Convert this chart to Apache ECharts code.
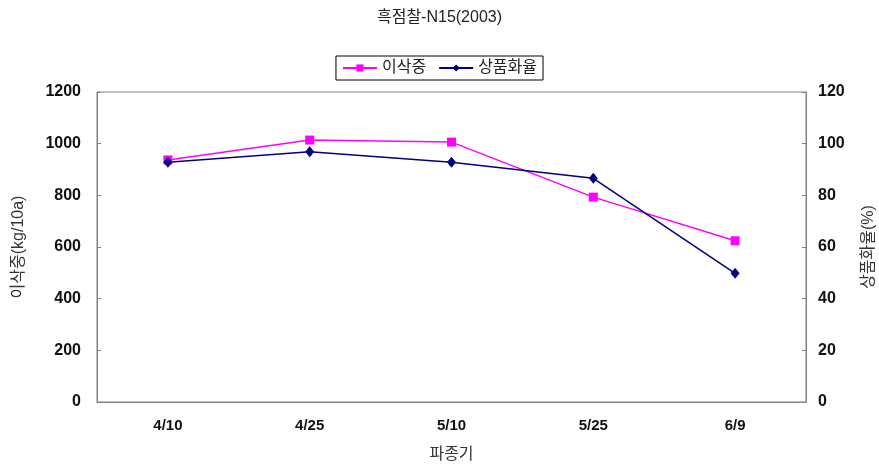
<!DOCTYPE html>
<html><head><meta charset="utf-8">
<script src="https://cdn.jsdelivr.net/npm/echarts@6/dist/echarts.min.js"></script>
<style>html,body{margin:0;padding:0;background:#fff}#c{width:879px;height:468px}</style>
</head><body><div id="c"></div>
<script>
const categories = ['4/10','4/25','5/10','5/25','6/9'];
const yieldVals = [937, 1014, 1006, 793, 624];
const marketRate = [92.8, 96.9, 92.8, 86.6, 49.8];
const FONT = '"Liberation Sans", Arial, "Noto Sans CJK KR", sans-serif';
const chart = echarts.init(document.getElementById('c'));
chart.setOption({
  animation: false,
  backgroundColor: '#fff',
  title: { text: '흑점찰-N15(2003)', left: 'center', top: 5,
    textStyle: { fontFamily: FONT, fontSize: 16, fontWeight: 'normal', color: '#222' } },
  legend: { top: 56, left: 'center', itemGap: 12, itemWidth: 34, itemHeight: 9,
    borderColor: '#000', borderWidth: 1, borderRadius: 0, padding: [4, 6, 4, 6],
    textStyle: { fontFamily: FONT, fontSize: 16, color: '#222' },
    data: ['이삭중', '상품화율'] },
  grid: { left: 97, right: 73, top: 92, bottom: 66, show: true, borderColor: '#808080', borderWidth: 1,
    outerBoundsMode: 'none', containLabel: false },
  xAxis: { type: 'category', data: categories, boundaryGap: true,
    name: '파종기', nameLocation: 'middle', nameGap: 45,
    nameTextStyle: { fontFamily: FONT, fontSize: 16, color: '#333' },
    axisLine: { lineStyle: { color: '#808080' } },
    axisTick: { inside: true, length: 5, lineStyle: { color: '#808080' } },
    axisLabel: { fontFamily: FONT, fontSize: 15, fontWeight: 'bold', color: '#111', margin: 16 } },
  yAxis: [
    { type: 'value', min: 0, max: 1200, interval: 200,
      name: '이삭중(kg/10a)', nameLocation: 'middle', nameGap: 70, nameRotate: 90,
      nameTextStyle: { fontFamily: FONT, fontSize: 16, color: '#333' },
      axisLine: { show: true, lineStyle: { color: '#808080' } },
      axisTick: { show: true, inside: true, length: 4, lineStyle: { color: '#808080' } },
      splitLine: { show: false },
      axisLabel: { fontFamily: FONT, fontSize: 16, fontWeight: 'bold', color: '#111', margin: 16,
        formatter: v => String(v) } },
    { type: 'value', min: 0, max: 120, interval: 20, position: 'right',
      name: '상품화율(%)', nameLocation: 'middle', nameGap: 55, nameRotate: 90,
      nameTextStyle: { fontFamily: FONT, fontSize: 16, color: '#333' },
      axisLine: { show: true, lineStyle: { color: '#808080' } },
      axisTick: { show: true, inside: true, length: 4, lineStyle: { color: '#808080' } },
      splitLine: { show: false },
      axisLabel: { fontFamily: FONT, fontSize: 16, fontWeight: 'bold', color: '#111', margin: 12,
        formatter: v => String(v) } }
  ],
  series: [
    { name: '이삭중', type: 'line', yAxisIndex: 0, data: yieldVals,
      symbol: 'rect', symbolSize: 9, color: '#ff00ff',
      lineStyle: { color: '#ff00ff', width: 1.5 }, itemStyle: { color: '#ff00ff' } },
    { name: '상품화율', type: 'line', yAxisIndex: 1, data: marketRate,
      symbol: 'diamond', symbolSize: [9, 11], color: '#000080',
      lineStyle: { color: '#000080', width: 1.5 }, itemStyle: { color: '#000080' } }
  ]
});
</script></body></html>
